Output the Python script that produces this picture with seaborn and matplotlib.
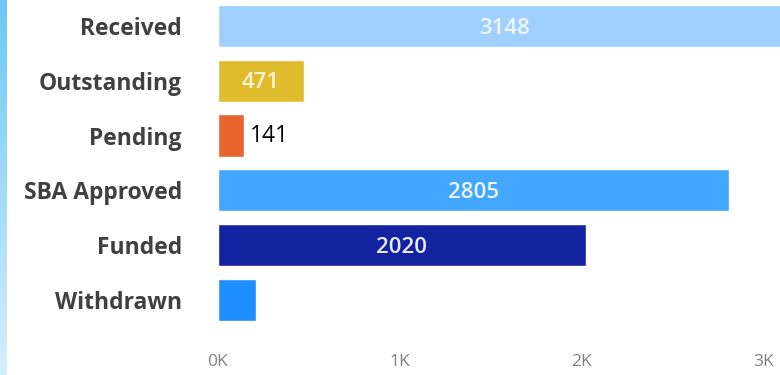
import matplotlib
matplotlib.use("Agg")
import matplotlib.pyplot as plt
import numpy as np
import pandas as pd
import seaborn as sns
from matplotlib.ticker import FuncFormatter

# Loan pipeline counts by status
statuses = ["Received", "Outstanding", "Pending", "SBA Approved", "Funded", "Withdrawn"]
counts = [3148, 471, 141, 2805, 2020, 209]
bar_colors = ["#9fd0ff", "#e0bc2c", "#e8632d", "#43a6ff", "#13229f", "#1f8fff"]
x_ticks = [0, 1000, 2000, 3000]

df = pd.DataFrame({"status": statuses, "count": counts})

sns.set_theme(style="white")
plt.rcParams["font.family"] = ["Open Sans", "DejaVu Sans"]

W, H = 780, 375
fig = plt.figure(figsize=(W / 100, H / 100), dpi=100)
fig.patch.set_facecolor("white")

# Blue accent strip along the left edge
strip = fig.add_axes([0, 0, 7 / W, 1])
grad = np.linspace(0, 1, 256).reshape(-1, 1)
cmap = matplotlib.colors.LinearSegmentedColormap.from_list("edge", ["#6cc8f2", "#d6effc"])
strip.imshow(grad, aspect="auto", cmap=cmap, extent=[0, 1, 0, 1])
strip.set_axis_off()

# Main bar axes; the value axis continues past the right edge of the canvas
px_per_unit = 0.182
x_max = 3300
left_px = 218
ax_w_px = x_max * px_per_unit
ax_bottom_px = 35
ax = fig.add_axes([left_px / W, ax_bottom_px / H, ax_w_px / W, (H - ax_bottom_px) / H])

sns.barplot(data=df, x="count", y="status", hue="status", order=statuses,
            palette=bar_colors, legend=False, width=0.77, saturation=1,
            ax=ax, orient="h")

ax.set_xlim(0, x_max)
ax.set_ylim(5.73, -0.474)
ax.set_xlabel("")
ax.set_ylabel("")
for s in ax.spines.values():
    s.set_visible(False)
ax.tick_params(axis="both", length=0)
ax.tick_params(axis="y", pad=26)
ax.tick_params(axis="x", pad=10)
ax.set_xticks(x_ticks)
ax.xaxis.set_major_formatter(FuncFormatter(lambda v, p: f"{int(v / 1000)}K"))
for lbl in ax.get_xticklabels():
    lbl.set_color("#808080")
    lbl.set_fontsize(12.5)
for lbl in ax.get_yticklabels():
    lbl.set_color("#404040")
    lbl.set_fontsize(16.5)
    lbl.set_fontweight("bold")

# Value labels
inside = {"Received": "#eef6ff", "Outstanding": "#fbf3d6",
          "SBA Approved": "#eaf5ff", "Funded": "#e8ecff"}
for i, (name, val) in enumerate(zip(statuses, counts)):
    if name in inside:
        ax.text(val / 2, i + 0.04, f"{val}", ha="center", va="center",
                color=inside[name], fontsize=16, fontweight="semibold")
    elif name == "Pending":
        ax.text(val + 35, i + 0.0, f"{val}", ha="left", va="center",
                color="black", fontsize=16.5)

fig.savefig("out.png", dpi=100)
